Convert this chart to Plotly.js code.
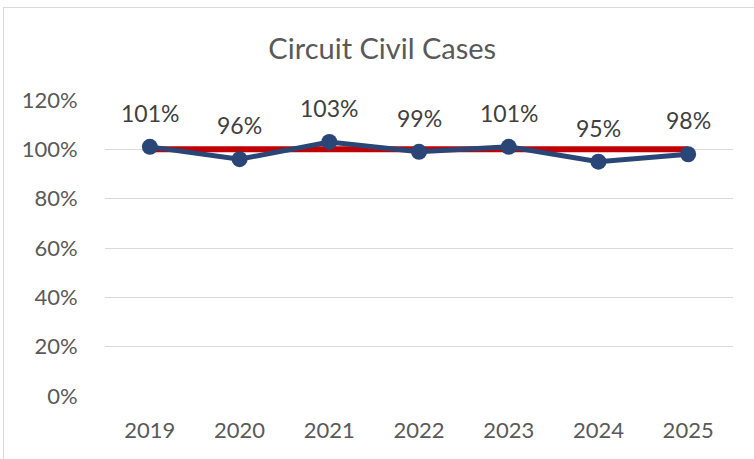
<!DOCTYPE html>
<html>
<head>
<meta charset="utf-8">
<script src="https://cdn.plot.ly/plotly-3.0.1.min.js"></script>
<style>
html,body{margin:0;padding:0;background:#fff;}
#wrap{position:relative;width:754px;height:459px;overflow:hidden;}
#chart{width:754px;height:459px;}
#frame{position:absolute;left:3px;top:7px;width:800px;height:500px;border-left:1.5px solid #d9d9d9;border-top:1.5px solid #d9d9d9;pointer-events:none;}
</style>
</head>
<body>
<div id="wrap"><div id="chart"></div><div id="frame"></div></div>
<script>
const years = ["2019","2020","2021","2022","2023","2024","2025"];
const actual = [1.01, 0.96, 1.03, 0.99, 1.01, 0.95, 0.98];
const target = [1, 1, 1, 1, 1, 1, 1];
const yTickVals = [0, 0.2, 0.4, 0.6, 0.8, 1.0, 1.2];
const yTickText = ["0%","20%","40%","60%","80%","100%","120%"];

const font = "Lato, 'Open Sans', sans-serif";
const traces = [
  {x: years, y: target, type: "scatter", mode: "lines",
   line: {color: "#C00000", width: 6}, hoverinfo: "skip", showlegend: false},
  {x: years, y: actual, type: "scatter", mode: "lines+markers",
   line: {color: "#2A4677", width: 5},
   marker: {color: "#2A4677", size: 16}, showlegend: false}
];
const annotations = years.map((yr, i) => ({
  x: i, y: actual[i], xref: "x", yref: "y",
  text: Math.round(actual[i] * 100) + "%",
  showarrow: false, yshift: 34,
  font: {family: font, size: 23, color: "#404040"}
}));
const layout = {
  width: 754, height: 459,
  margin: {l: 105, r: 21, t: 100, b: 63},
  paper_bgcolor: "#ffffff", plot_bgcolor: "#ffffff",
  title: {text: "Circuit Civil Cases", x: 0.507, xanchor: "center", y: 0.893, yanchor: "middle",
          font: {family: font, size: 29, color: "#595959"}},
  xaxis: {type: "category", range: [-0.5, 6.5], showgrid: false, zeroline: false,
          showline: false, ticks: "outside", ticklen: 15, tickcolor: "rgba(0,0,0,0)",
          tickfont: {family: font, size: 22, color: "#595959"}},
  yaxis: {range: [0, 1.2], tickvals: yTickVals, ticktext: yTickText,
          showgrid: true, gridcolor: "#d9d9d9", gridwidth: 1, zeroline: false, showline: false,
          ticks: "outside", ticklen: 22, tickcolor: "rgba(0,0,0,0)",
          tickfont: {family: font, size: 22, color: "#595959"}},
  annotations: annotations
};
Plotly.newPlot("chart", traces, layout, {displayModeBar: false, staticPlot: true});
</script>
</body>
</html>
